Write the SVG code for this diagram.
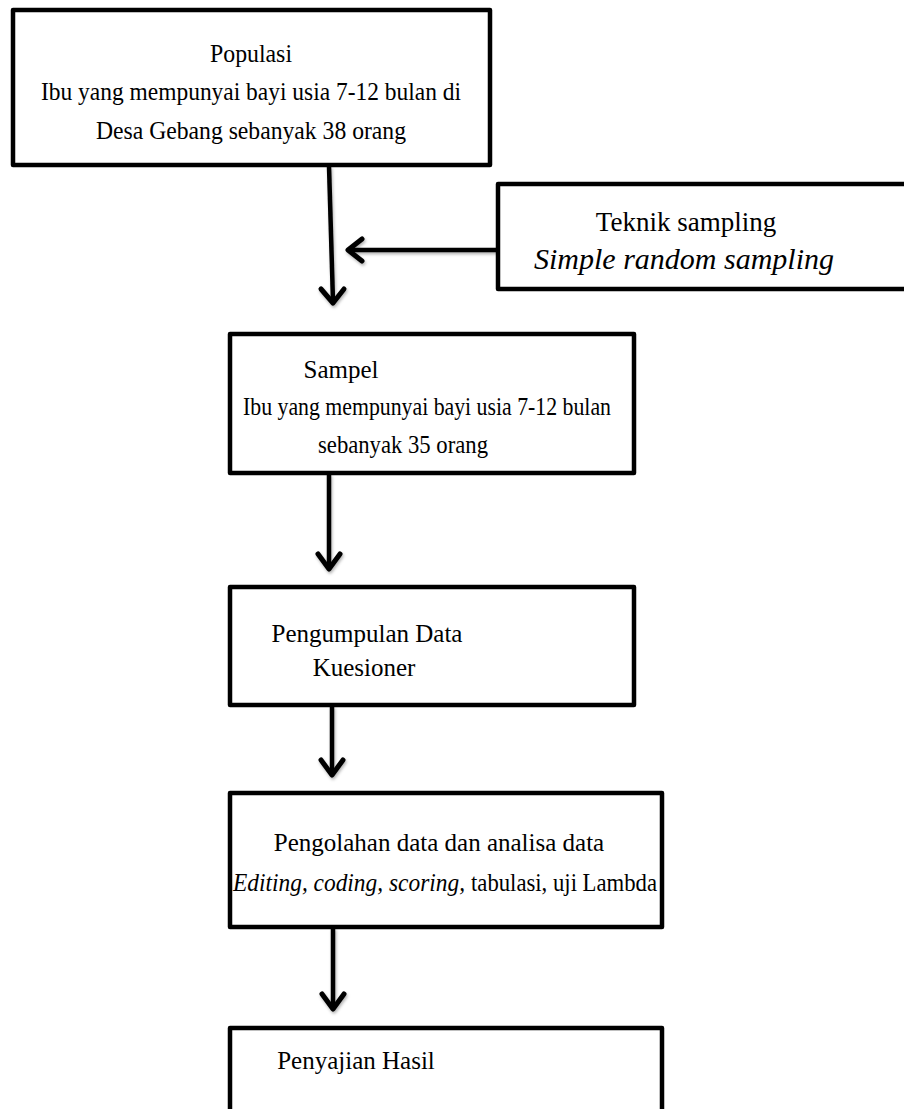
<svg xmlns="http://www.w3.org/2000/svg" width="904" height="1109" viewBox="0 0 904 1109">
<style>
.box{fill:#fff;stroke:#000;stroke-width:4.5;stroke-linejoin:round}
.t{font-family:"Liberation Serif","Times New Roman",serif;font-size:25px;fill:#000;text-anchor:middle}
.s{text-anchor:start}
.i{font-style:italic}
.ln{fill:none;stroke:#000;stroke-width:4.5}
.hd{fill:none;stroke:#000;stroke-width:5;stroke-linecap:round;stroke-linejoin:round}
</style>
<defs>
<filter id="sh" x="-20%" y="-20%" width="140%" height="140%">
<feDropShadow dx="1" dy="2" stdDeviation="1.5" flood-color="#000" flood-opacity="0.3"/>
</filter>
</defs>
<rect width="904" height="1109" fill="#fff"/>
<g id="connectors" filter="url(#sh)">
<line class="ln" x1="329" y1="166" x2="333" y2="302"/>
<polyline class="hd" points="321,289 333,303 344,289"/>
<line class="ln" x1="498" y1="250" x2="350" y2="250"/>
<polyline class="hd" points="362,239 348,250 362,261"/>
<line class="ln" x1="329" y1="474" x2="329" y2="568"/>
<polyline class="hd" points="318,554 329,569 340,554"/>
<line class="ln" x1="332" y1="706" x2="332" y2="774"/>
<polyline class="hd" points="321,760 332,775 343,760"/>
<line class="ln" x1="333" y1="928" x2="333" y2="1008"/>
<polyline class="hd" points="322,994 333,1009 344,994"/>
</g>
<g id="populasi">
<rect class="box" x="13" y="10" width="477" height="155"/>
<text class="t" x="251" y="62" textLength="82" lengthAdjust="spacingAndGlyphs">Populasi</text>
<text class="t" x="251" y="100" textLength="420" lengthAdjust="spacingAndGlyphs">Ibu yang mempunyai bayi usia 7-12 bulan di</text>
<text class="t" x="251" y="139" textLength="310" lengthAdjust="spacingAndGlyphs">Desa Gebang sebanyak 38 orang</text>
</g>
<g id="teknik">
<rect class="box" x="498" y="184" width="420" height="105"/>
<text class="t" x="686" y="231" style="font-size:27px">Teknik sampling</text>
<text class="t i" x="684" y="269" style="font-size:30px">Simple random sampling</text>
</g>
<g id="sampel">
<rect class="box" x="230" y="334" width="404" height="139"/>
<text class="t" x="341" y="378">Sampel</text>
<text class="t" x="427" y="415" textLength="368" lengthAdjust="spacingAndGlyphs">Ibu yang mempunyai bayi usia 7-12 bulan</text>
<text class="t" x="403" y="453" textLength="170" lengthAdjust="spacingAndGlyphs">sebanyak 35 orang</text>
</g>
<g id="pengumpulan">
<rect class="box" x="230" y="587" width="404" height="118"/>
<text class="t" x="367" y="642">Pengumpulan Data</text>
<text class="t" x="364" y="676">Kuesioner</text>
</g>
<g id="pengolahan">
<rect class="box" x="230" y="793" width="432" height="134"/>
<text class="t" x="439" y="851">Pengolahan data dan analisa data</text>
<text class="t s i" x="233" y="891" textLength="232" lengthAdjust="spacingAndGlyphs">Editing, coding, scoring,</text>
<text class="t s" x="471" y="891" textLength="186" lengthAdjust="spacingAndGlyphs">tabulasi, uji Lambda</text>
</g>
<g id="penyajian">
<rect class="box" x="230" y="1028" width="432" height="110"/>
<text class="t" x="356" y="1069">Penyajian Hasil</text>
</g>
</svg>
